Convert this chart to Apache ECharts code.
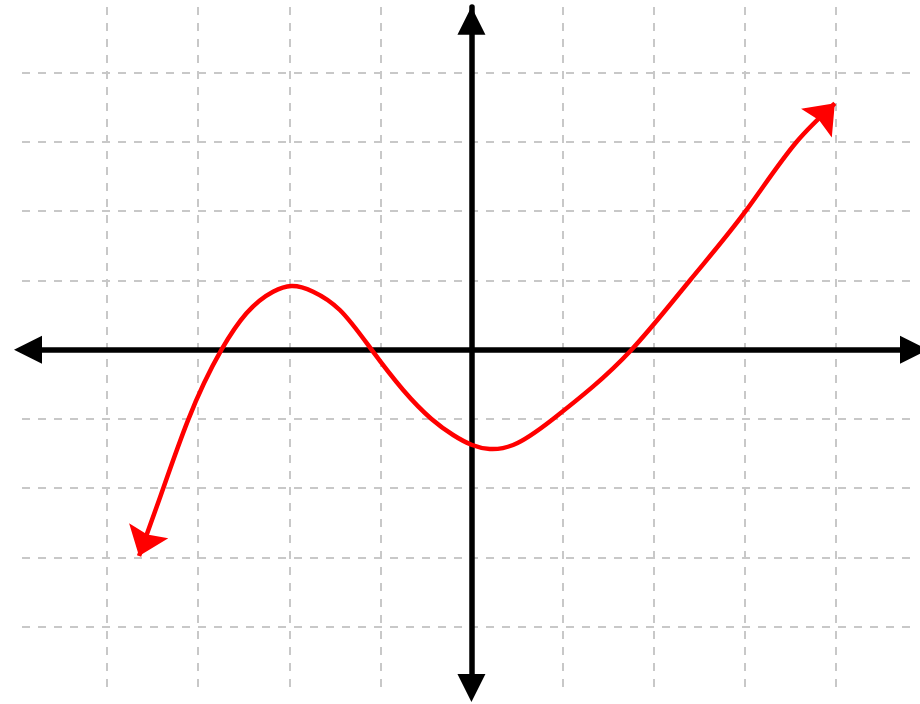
<!DOCTYPE html>
<html>
<head>
<meta charset="utf-8">
<script src="https://cdn.jsdelivr.net/npm/echarts@6/dist/echarts.min.js"></script>
<style>
  html, body { margin: 0; padding: 0; background: #ffffff; }
  #chart { width: 920px; height: 704px; }
</style>
</head>
<body>
<div id="chart"></div>
<script>
// Curve points (x, y in grid units)
const curveX = [-3.649, -3.429, -3.111, -2.744, -2.470, -2.178, -1.976, -1.738, -1.445, -1.097, -0.750, -0.439, -0.201, 0.007, 0.201, 0.457, 0.896, 1.757, 2.397, 3.009, 3.568, 3.989];
const curveY = [-2.979, -2.170, -1.016, 0.000, 0.526, 0.838, 0.920, 0.838, 0.573, 0.000, -0.582, -1.000, -1.232, -1.376, -1.434, -1.376, -1.000, 0.000, 1.000, 2.000, 3.000, 3.558];

// Arrow tips at both ends of the curve
const startTip = [-3.649, -2.979];
const endTip = [3.989, 3.558];

// Visible axis extents
const xRange = [-4.934, 4.847];
const yRange = [-4.929, 4.949];

const curveData = curveX.map((x, i) => [x, curveY[i]]);

// Natural cubic spline through the read points, expressed as Bezier segments (data space)
function splineSegments(xs, ys) {
  const n = xs.length;
  const h = [];
  const M = new Array(n).fill(0);
  for (let i = 0; i < n - 1; i++) h.push(xs[i + 1] - xs[i]);
  const a = [], b = [], c = [], d = [];
  for (let i = 1; i < n - 1; i++) {
    a.push(h[i - 1]); b.push(2 * (h[i - 1] + h[i])); c.push(h[i]);
    d.push(6 * ((ys[i + 1] - ys[i]) / h[i] - (ys[i] - ys[i - 1]) / h[i - 1]));
  }
  const m = b.length;
  for (let i = 1; i < m; i++) {
    const w = a[i] / b[i - 1];
    b[i] -= w * c[i - 1];
    d[i] -= w * d[i - 1];
  }
  const sol = new Array(m);
  sol[m - 1] = d[m - 1] / b[m - 1];
  for (let i = m - 2; i >= 0; i--) sol[i] = (d[i] - c[i] * sol[i + 1]) / b[i];
  for (let i = 1; i < n - 1; i++) M[i] = sol[i - 1];
  const segs = [];
  for (let i = 0; i < n - 1; i++) {
    const hi = h[i];
    const s = (ys[i + 1] - ys[i]) / hi;
    const d0 = s - hi * (2 * M[i] + M[i + 1]) / 6;
    const d1 = s + hi * (M[i] + 2 * M[i + 1]) / 6;
    segs.push([[xs[i] + hi / 3, ys[i] + d0 * hi / 3], [xs[i + 1] - hi / 3, ys[i + 1] - d1 * hi / 3], [xs[i + 1], ys[i + 1]]]);
  }
  return segs;
}
const segs = splineSegments(curveX, curveY);

const arrowPath = 'path://M21,0 L42,27 L21,23 L0,27 Z';

const gridLine = { show: true, showMinLine: false, showMaxLine: false, lineStyle: { color: '#c8c8c8', width: 2, type: [8, 8] } };

const chart = echarts.init(document.getElementById('chart'), null, { renderer: 'canvas' });
chart.setOption({
  backgroundColor: '#ffffff',
  animation: false,
  grid: { left: 22, right: 7, top: 7, bottom: 13, containLabel: false },
  xAxis: {
    type: 'value', min: xRange[0], max: xRange[1], splitNumber: 10, minInterval: 1, maxInterval: 1,
    axisLabel: { show: false }, axisTick: { show: false },
    axisLine: { show: true, onZero: true, symbol: ['triangle', 'triangle'], symbolSize: [28, 28], symbolOffset: [6, 1], lineStyle: { color: '#000000', width: 5.5 } },
    splitLine: gridLine
  },
  yAxis: {
    type: 'value', min: yRange[0], max: yRange[1], splitNumber: 10, minInterval: 1, maxInterval: 1,
    axisLabel: { show: false }, axisTick: { show: false },
    axisLine: { show: true, onZero: true, symbol: ['triangle', 'triangle'], symbolSize: [28, 28], symbolOffset: [3, -13.7], lineStyle: { color: '#000000', width: 5.5 } },
    splitLine: gridLine
  },
  series: [
    {
      type: 'custom', data: curveData, encode: { x: 0, y: 1 }, z: 3, clip: false,
      renderItem: function (params, api) {
        if (params.dataIndex !== 0) return null;
        const p0 = api.coord([curveX[0], curveY[0]]);
        let d = 'M' + p0[0] + ' ' + p0[1];
        segs.forEach(function (s) {
          const c1 = api.coord(s[0]), c2 = api.coord(s[1]), e = api.coord(s[2]);
          d += ' C' + c1[0] + ' ' + c1[1] + ' ' + c2[0] + ' ' + c2[1] + ' ' + e[0] + ' ' + e[1];
        });
        return {
          type: 'path',
          shape: { pathData: d },
          style: { fill: 'none', stroke: '#ff0000', lineWidth: 4.5, lineJoin: 'round' }
        };
      }
    },
    {
      type: 'scatter', z: 4,
      data: [
        { value: startTip, symbolRotate: 159, symbolOffset: [4.8, -12.6] },
        { value: endTip, symbolRotate: -43, symbolOffset: [-9.2, 9.9] }
      ],
      symbol: arrowPath, symbolSize: [42, 27],
      itemStyle: { color: '#ff0000', opacity: 1 }
    }
  ]
});
</script>
</body>
</html>
